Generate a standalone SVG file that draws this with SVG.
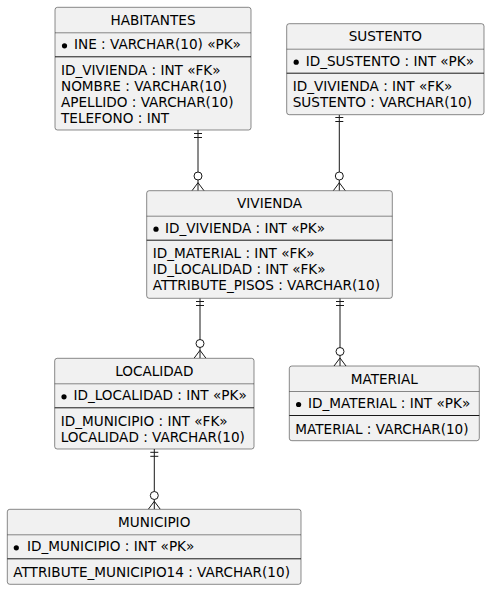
<svg xmlns="http://www.w3.org/2000/svg" width="490" height="590" viewBox="0 0 490 590">
<style>
.box{fill:#F1F1F1;stroke:#181818;stroke-width:0.5}
.sep1{stroke:#181818;stroke-width:0.5}
.sep2{stroke:#181818;stroke-width:1}
text{font-family:"DejaVu Sans",sans-serif;font-size:13.6px;fill:#000}
.t{text-anchor:middle}
.b{fill:#000}
.c{stroke:#181818;stroke-width:1;fill:none}
.o{stroke:#181818;stroke-width:1;fill:#FFFFFF}
</style>
<rect width="490" height="590" fill="#FFFFFF"/>
<g id="connectors">
<g id="c1">
<line class="c" x1="198" y1="130" x2="198" y2="190.7"/>
<line class="c" x1="194" y1="133.5" x2="202" y2="133.5"/>
<line class="c" x1="194" y1="137.5" x2="202" y2="137.5"/>
<path class="c" d="M192,190.7 L198,182.7 L204,190.7"/>
<circle class="o" cx="198" cy="176" r="4"/>
</g>
<g id="c2">
<line class="c" x1="339.3" y1="114.7" x2="339.3" y2="190.7"/>
<line class="c" x1="335.3" y1="117.5" x2="343.3" y2="117.5"/>
<line class="c" x1="335.3" y1="121.5" x2="343.3" y2="121.5"/>
<path class="c" d="M333.3,190.7 L339.3,182.7 L345.3,190.7"/>
<circle class="o" cx="339.3" cy="176" r="4"/>
</g>
<g id="c3">
<line class="c" x1="200" y1="298.3" x2="200" y2="358.3"/>
<line class="c" x1="196" y1="301.5" x2="204" y2="301.5"/>
<line class="c" x1="196" y1="305.5" x2="204" y2="305.5"/>
<path class="c" d="M194,358.3 L200,350.3 L206,358.3"/>
<circle class="o" cx="200" cy="343.5" r="4"/>
</g>
<g id="c4">
<line class="c" x1="340" y1="298.3" x2="340" y2="366"/>
<line class="c" x1="336" y1="301.5" x2="344" y2="301.5"/>
<line class="c" x1="336" y1="305.5" x2="344" y2="305.5"/>
<path class="c" d="M334,366 L340,358 L346,366"/>
<circle class="o" cx="340" cy="351.5" r="4"/>
</g>
<g id="c5">
<line class="c" x1="154.3" y1="449" x2="154.3" y2="509.3"/>
<line class="c" x1="150.3" y1="452.3" x2="158.3" y2="452.3"/>
<line class="c" x1="150.3" y1="456.3" x2="158.3" y2="456.3"/>
<path class="c" d="M148.3,509.3 L154.3,501.3 L160.3,509.3"/>
<circle class="o" cx="154.3" cy="495.5" r="4"/>
</g>
</g>
<g id="HABITANTES">
<rect class="box" x="55" y="7.3" width="196" height="122.7" rx="2.5"/>
<text class="t" x="153" y="25">HABITANTES</text>
<line class="sep1" x1="55" y1="32.8" x2="251" y2="32.8"/>
<circle class="b" cx="64.5" cy="45.8" r="2.6"/>
<text x="74" y="49.3">INE : VARCHAR(10) «PK»</text>
<line class="sep2" x1="55" y1="56.8" x2="251" y2="56.8"/>
<text x="61" y="74.8">ID_VIVIENDA : INT «FK»</text>
<text x="61" y="90.8">NOMBRE : VARCHAR(10)</text>
<text x="61" y="106.8">APELLIDO : VARCHAR(10)</text>
<text x="61" y="122.8">TELEFONO : INT</text>
</g>
<g id="SUSTENTO">
<rect class="box" x="286.7" y="23.7" width="197.3" height="91" rx="2.5"/>
<text class="t" x="385.3" y="41.4">SUSTENTO</text>
<line class="sep1" x1="286.7" y1="49.2" x2="484" y2="49.2"/>
<circle class="b" cx="296.2" cy="62.2" r="2.6"/>
<text x="305.7" y="65.7">ID_SUSTENTO : INT «PK»</text>
<line class="sep2" x1="286.7" y1="73.2" x2="484" y2="73.2"/>
<text x="292.7" y="91.2">ID_VIVIENDA : INT «FK»</text>
<text x="292.7" y="107.2">SUSTENTO : VARCHAR(10)</text>
</g>
<g id="VIVIENDA">
<rect class="box" x="146.7" y="190.7" width="245.6" height="107.6" rx="2.5"/>
<text class="t" x="269.5" y="208.4">VIVIENDA</text>
<line class="sep1" x1="146.7" y1="216.2" x2="392.3" y2="216.2"/>
<circle class="b" cx="156" cy="229.2" r="2.6"/>
<text x="165" y="232.7">ID_VIVIENDA : INT «PK»</text>
<line class="sep2" x1="146.7" y1="240.2" x2="392.3" y2="240.2"/>
<text x="152.7" y="258.2">ID_MATERIAL : INT «FK»</text>
<text x="152.7" y="274.2">ID_LOCALIDAD : INT «FK»</text>
<text x="152.7" y="290.2">ATTRIBUTE_PISOS : VARCHAR(10)</text>
</g>
<g id="LOCALIDAD">
<rect class="box" x="54.7" y="358.3" width="199.3" height="90.7" rx="2.5"/>
<text class="t" x="154.3" y="376">LOCALIDAD</text>
<line class="sep1" x1="54.7" y1="383.8" x2="254" y2="383.8"/>
<circle class="b" cx="64" cy="396.8" r="2.6"/>
<text x="73.5" y="400.3">ID_LOCALIDAD : INT «PK»</text>
<line class="sep2" x1="54.7" y1="407.8" x2="254" y2="407.8"/>
<text x="60.7" y="425.8">ID_MUNICIPIO : INT «FK»</text>
<text x="60.7" y="441.8">LOCALIDAD : VARCHAR(10)</text>
</g>
<g id="MATERIAL">
<rect class="box" x="289.3" y="366" width="190" height="74.7" rx="2.5"/>
<text class="t" x="384.3" y="383.7">MATERIAL</text>
<line class="sep1" x1="289.3" y1="391.5" x2="479.3" y2="391.5"/>
<circle class="b" cx="298.6" cy="404.5" r="2.6"/>
<text x="308" y="408">ID_MATERIAL : INT «PK»</text>
<line class="sep2" x1="289.3" y1="415.5" x2="479.3" y2="415.5"/>
<text x="295.3" y="433.5">MATERIAL : VARCHAR(10)</text>
</g>
<g id="MUNICIPIO">
<rect class="box" x="7.3" y="509.3" width="293.7" height="75" rx="2.5"/>
<text class="t" x="154.2" y="527">MUNICIPIO</text>
<line class="sep1" x1="7.3" y1="534.8" x2="301" y2="534.8"/>
<circle class="b" cx="16.3" cy="547.8" r="2.6"/>
<text x="27" y="551.3">ID_MUNICIPIO : INT «PK»</text>
<line class="sep2" x1="7.3" y1="558.8" x2="301" y2="558.8"/>
<text x="13.3" y="576.8">ATTRIBUTE_MUNICIPIO14 : VARCHAR(10)</text>
</g>
</svg>
